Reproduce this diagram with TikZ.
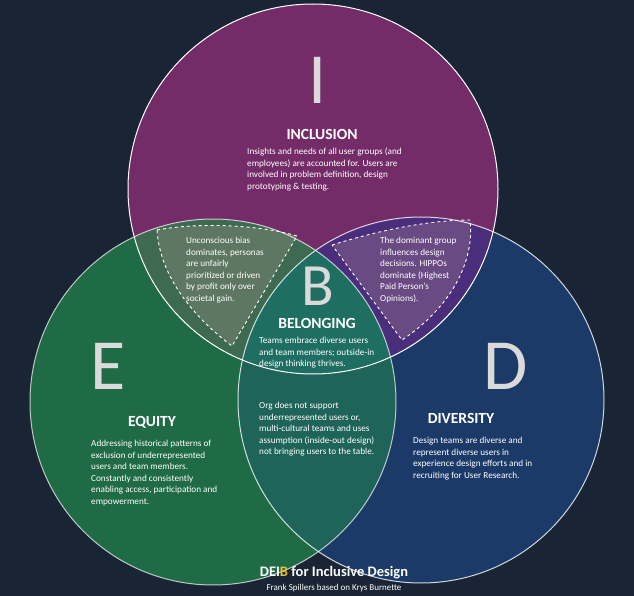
\documentclass[tikz,border=0pt]{standalone}
\usepackage{fontspec}
\setmainfont{Carlito}
\begin{document}
\begin{tikzpicture}[x=1pt,y=-1pt,
  big/.style={text=biglet,font=\fontsize{72}{72}\selectfont,inner sep=0pt},
  head/.style={text=white,font=\fontsize{15.5}{15.5}\selectfont\bfseries,inner sep=1pt},
  body/.style={text=white,font=\fontsize{9.2}{11.5}\selectfont,align=left,anchor=north west,inner sep=0pt},
  ring/.style={draw=white,line width=1pt},
  dashbox/.style={draw=white,dashed,line width=0.9pt}]
\definecolor{bg}{HTML}{192535}
\definecolor{cI}{HTML}{742C68}
\definecolor{cE}{HTML}{1E6B45}
\definecolor{cD}{HTML}{1C3A68}
\definecolor{cIE}{HTML}{3E6A52}
\definecolor{cID}{HTML}{4A2E7C}
\definecolor{cED}{HTML}{1F6458}
\definecolor{cB}{HTML}{1F6E62}
\definecolor{dL}{HTML}{5E7762}
\definecolor{dR}{HTML}{6A4A82}
\definecolor{biglet}{HTML}{DADADA}
\definecolor{gold}{HTML}{E8C12A}
\fill[bg] (0,0) rectangle (634,596);
\useasboundingbox (0,0) rectangle (634,596);
\def\CI{(313,189) circle[radius=185]}
\def\CE{(213,402) circle[radius=183]}
\def\CD{(421,400) circle[radius=183]}
\fill[cI] \CI; \fill[cE] \CE; \fill[cD] \CD;
\begin{scope}\clip \CI; \fill[cIE] \CE; \fill[cID] \CD; \end{scope}
\begin{scope}\clip \CE; \fill[cED] \CD; \end{scope}
\begin{scope}\clip \CI; \clip \CE; \fill[cB] \CD; \end{scope}
% dashed regions
\path[fill=dL,dashbox] (157,230) .. controls (200,222) and (260,225) .. (297,236)
  -- (232,346) .. controls (195,318) and (160,278) .. cycle;
\path[fill=dR,dashbox] (332,245) .. controls (380,230) and (430,220) .. (470,220)
  .. controls (475,262) and (450,308) .. (402,340) -- cycle;
\draw[ring] \CI; \draw[ring,draw opacity=0.7] \CE; \draw[ring,draw opacity=0.8] \CD;
\node[big] (I) at (318,80) {I};
\node[head] (inc) at (322,134) {INCLUSION};
\node[body] (inct) at (247,148) {Insights and needs of all user groups (and\\employees) are accounted for. Users are\\involved in problem definition, design\\prototyping \& testing.};
\node[body] (lt) at (186,237) {Unconscious bias\\dominates, personas\\are unfairly\\prioritized or driven\\by profit only over\\societal gain.};
\node[body] (rt) at (380,237) {The dominant group\\influences design\\decisions. HIPPOs\\dominate (Highest\\Paid Person's\\Opinions).};
\node[big,font=\fontsize{60}{60}\selectfont] (B) at (318,286) {B};
\node[head] (bel) at (317,323) {BELONGING};
\node[body] (bt) at (259,337) {Teams embrace diverse users\\and team members; outside-in\\design thinking thrives.};
\node[big] (E) at (108,366) {E};
\node[head] (eq) at (152,422) {EQUITY};
\node[body] (et) at (91,440) {Addressing historical patterns of\\exclusion of underrepresented\\users and team members.\\Constantly and consistently\\enabling access, participation and\\empowerment.};
\node[body] (ot) at (259,402) {Org does not support\\underrepresented users or,\\multi-cultural teams and uses\\assumption (inside-out design)\\not bringing users to the table.};
\node[big] (D) at (506,366) {D};
\node[head] (dv) at (461,418) {DIVERSITY};
\node[body] (dt) at (413,437) {Design teams are diverse and\\represent diverse users in\\experience design efforts and in\\recruiting for User Research.};
\node[text=white,font=\fontsize{14.5}{14.5}\selectfont\bfseries] (t) at (334,573) {DEI{\color{gold}B} for Inclusive Design};
\node[text=white,font=\fontsize{9}{9}\selectfont] (s) at (334,588) {Frank Spillers based on Krys Burnette};
\end{tikzpicture}
\end{document}
